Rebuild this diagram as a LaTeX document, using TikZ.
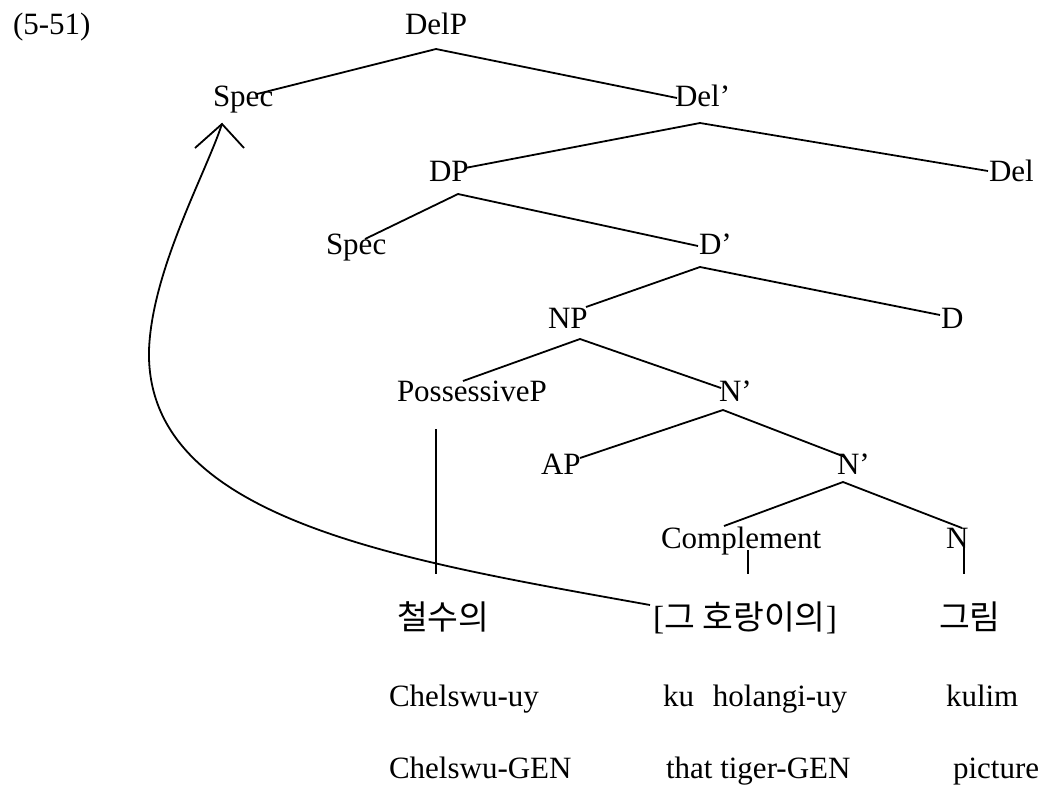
\documentclass[tikz,border=0pt]{standalone}
\usepackage{fontspec}
\setmainfont{Liberation Serif}
\newfontfamily\hangul{Noto Sans CJK KR}
\begin{document}
\begin{tikzpicture}[x=1pt,y=-1pt,
  lbl/.style={anchor=base west,inner sep=0pt,outer sep=0pt,font=\fontsize{31}{37}\selectfont},
  kr/.style={anchor=base west,inner sep=0pt,outer sep=0pt,font=\fontsize{33.5}{40}\selectfont\hangul},
  branch/.style={line width=1.8pt},
]
\useasboundingbox (0,0) rectangle (1044,788);

% example number
\node[lbl] (ex) at (13,34) {(5-51)};

% tree labels
\node[lbl] (DelP)  at (405,34)  {DelP};
\node[lbl] (SpecA) at (213,106) {Spec};
\node[lbl] (Delb)  at (675,106) {Del’};
\node[lbl] (DP)    at (429,181) {DP};
\node[lbl] (Del)   at (989,181) {Del};
\node[lbl] (SpecB) at (326,254) {Spec};
\node[lbl] (Db)    at (699,254) {D’};
\node[lbl] (NP)    at (548,328) {NP};
\node[lbl] (D)     at (941,328) {D};
\node[lbl] (PossP) at (397,401) {PossessiveP};
\node[lbl] (NbA)   at (719,401) {N’};
\node[lbl] (AP)    at (541,474) {AP};
\node[lbl] (NbB)   at (837,474) {N’};
\node[lbl] (Comp)  at (661,548) {Complement};
\node[lbl] (N)     at (946,548) {N};

% Korean words
\node[kr] (w1) at (397,629) {철수의};
\node[kr] (w2) at (653,629) {{\rmfamily[}그 호랑이의{\rmfamily]}};
\node[kr] (w3) at (939,629) {그림};

% romanization and glosses
\node[lbl] (r1) at (389,706) {Chelswu-uy};
\node[lbl] (r2) at (663,706) {ku\hspace{0.61em}holangi-uy};
\node[lbl] (r3) at (946,706) {kulim};
\node[lbl] (g1) at (389,778) {Chelswu-GEN};
\node[lbl] (g2) at (666,778) {that tiger-GEN};
\node[lbl] (g3) at (953,778) {picture};

% branches
\draw[branch] ([shift={(44,-12)}]SpecA.base west) -- ([shift={(31,15)}]DelP.base west)
              -- ([shift={(2,-8)}]Delb.base west);
\draw[branch] ([shift={(36,-13)}]DP.base west) -- ([shift={(25,17)}]Delb.base west)
              -- ([shift={(-1,-10)}]Del.base west);
\draw[branch] ([shift={(39,-15)}]SpecB.base west) -- ([shift={(29,13)}]DP.base west)
              -- ([shift={(-1,-8)}]Db.base west);
\draw[branch] ([shift={(38,-21)}]NP.base west) -- ([shift={(1,13)}]Db.base west)
              -- ([shift={(-1,-13)}]D.base west);
\draw[branch] ([shift={(66,-20)}]PossP.base west) -- ([shift={(32,11)}]NP.base west)
              -- ([shift={(2,-13)}]NbA.base west);
\draw[branch] ([shift={(39,-16)}]AP.base west) -- ([shift={(4,9)}]NbA.base west)
              -- ([shift={(8,-17)}]NbB.base west);
\draw[branch] ([shift={(63,-22)}]Comp.base west) -- ([shift={(6,8)}]NbB.base west)
              -- ([shift={(16,-20)}]N.base west);

% lexical attachments
\draw[branch] ([shift={(39,28)}]PossP.base west) -- ([shift={(39,-55)}]w1.base west);
\draw[branch] ([shift={(87,2)}]Comp.base west) -- ([shift={(95,-55)}]w2.base west);
\draw[branch] ([shift={(18,-5)}]N.base west) -- ([shift={(25,-55)}]w3.base west);

% movement arrow from the complement to the specifier of DelP
\coordinate (mvtail) at ([shift={(-3,-24)}]w2.base west);
\coordinate (mvtip)  at ([shift={(9,18)}]SpecA.base west);
\draw[branch] (mvtail) .. controls (400,560) and (145,520) .. (149,350)
              .. controls (152,270) and (205,175) .. (mvtip);
\draw[branch] ([shift={(-27,24)}]mvtip) -- (mvtip) -- ([shift={(22,24)}]mvtip);
\end{tikzpicture}
\end{document}
